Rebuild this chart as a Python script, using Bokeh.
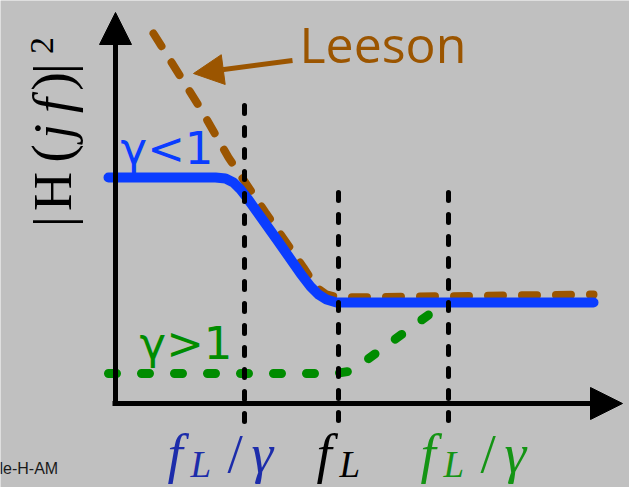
import math

from bokeh.embed import file_html
from bokeh.models import Arrow, ColumnDataSource, Label, NormalHead, Range1d
from bokeh.plotting import figure
from bokeh.resources import INLINE

# ---------------------------------------------------------------------------
# Sketch data (x: log-frequency units, y: log-magnitude units)
# ---------------------------------------------------------------------------
# gamma < 1 response: flat, roll-off, flat floor
blue_x = [-0.14, 2.0, 2.2, 2.36, 2.5, 2.64, 3.24, 3.7, 3.9, 4.06, 4.22, 4.42, 9.56]
blue_y = [5.65, 5.65, 5.625, 5.525, 5.35, 5.125, 4.075, 3.25, 2.925, 2.725, 2.6, 2.525, 2.525]

# Leeson asymptote
leeson_x = [0.76, 1.7, 2.26, 3.0, 3.76, 4.02, 4.22, 4.46, 9.56]
leeson_y = [9.25, 7.375, 6.15, 4.775, 3.4, 2.9, 2.725, 2.65, 2.725]

# gamma > 1 response: low flat level rising to the floor
green_x = [-0.14, 4.4, 4.66, 4.9, 6.6]
green_y = [0.75, 0.75, 0.8, 0.975, 2.525]

# corner-frequency markers
marker_x = [2.58, 4.46, 6.66]
marker_top = [7.45, 5.275, 5.275]
marker_bottom = -0.475

# tick labels: (main, subscript, has "/gamma" tail) pieces and their colours
tick_main = ["f", "f", "f"]
tick_sub = ["L", "L", "L"]
tick_tail = [True, False, True]
tick_colors = ["#1c2caa", "#000000", "#149414"]

BG = "#c0c0c0"
BLUE = "#0a3cff"
BROWN = "#9b5500"
GREEN = "#008c00"

W, H = 629, 487

p = figure(
    width=W,
    height=H,
    x_range=Range1d(-2.3, 10.28),
    y_range=Range1d(-2.1, 10.075),
    output_backend="svg",
    toolbar_location=None,
    x_axis_location=None,
    y_axis_location=None,
    min_border=0,
    background_fill_color=BG,
    border_fill_color=BG,
    outline_line_color=None,
)
p.grid.visible = False

# hand-drawn axes with arrow heads
p.add_layout(Arrow(x_start=0, y_start=-0.05, x_end=0, y_end=9.775,
                   line_color="black", line_width=5,
                   end=NormalHead(size=32, fill_color="black", line_color="black", line_width=1)))
p.add_layout(Arrow(x_start=-0.06, y_start=0, x_end=10.14, y_end=0,
                   line_color="black", line_width=5,
                   end=NormalHead(size=32, fill_color="black", line_color="black", line_width=1)))

# curves
p.line(green_x, green_y, line_color=GREEN, line_width=9, line_dash="8 25", line_cap="round")
p.line(leeson_x, leeson_y, line_color=BROWN, line_width=8, line_dash="15 19", line_cap="round")
p.line(blue_x, blue_y, line_color=BLUE, line_width=10, line_cap="round", line_join="round")

# vertical dashed markers
seg = ColumnDataSource(dict(x=marker_x, top=marker_top, bottom=[marker_bottom] * len(marker_x)))
p.segment(x0="x", y0="top", x1="x", y1="bottom", source=seg,
          line_color="black", line_width=5, line_dash="8 14", line_cap="round")

# arrow pointing at the Leeson asymptote
p.add_layout(Arrow(x_start=3.54, y_start=8.575, x_end=1.56, y_end=8.25,
                   line_color=BROWN, line_width=5,
                   end=NormalHead(size=30, fill_color=BROWN, line_color=BROWN, line_width=1)))

# the rendered glyph baseline sits this fraction of the font size below the anchor
BASE_SHIFT = 0.43
BASE_SHIFT_ROT = 0.33


def label(text, x, y, size, color, font, style="normal", angle=0.0, align="left"):
    """Place text with its baseline at pixel (x, y) measured from the top-left corner."""
    if angle:
        x = x - BASE_SHIFT_ROT * size
    else:
        y = y - BASE_SHIFT * size
    p.add_layout(Label(
        x=x, y=H - y, x_units="screen", y_units="screen", text=text,
        text_font=font, text_font_size=f"{size}px", text_font_style=style,
        text_color=color, text_align=align, text_baseline="alphabetic", angle=angle,
    ))


label("Leeson", 299, 65, 50, BROWN, "Open Sans")
label("γ<1", 120, 167, 45, BLUE, "DejaVu Sans")
label("γ>1", 139, 362, 45, GREEN, "DejaVu Sans")
label("le-H-AM", -1, 475, 16, "#1a1a1a", "Liberation Sans")

# y axis title |H(jf)|^2, rotated
SERIF = "Liberation Serif"
rot = math.pi / 2
label("|", 70, 221, 54, "black", SERIF, angle=rot, align="center")
label("H", 70, 191, 54, "black", SERIF, angle=rot, align="center")
label("(", 70, 153, 56, "black", SERIF, angle=rot, align="center")
label("j", 70, 131, 54, "black", SERIF, style="italic", angle=rot, align="center")
label("f", 70, 105, 54, "black", SERIF, style="italic", angle=rot, align="center")
label(")", 70, 81, 56, "black", SERIF, angle=rot, align="center")
label("|", 70, 68, 54, "black", SERIF, angle=rot, align="center")
label("2", 53, 45, 34, "black", SERIF, angle=rot, align="center")

# x tick labels under the markers
tick_offsets = [-77, -22, -28]
for mx, off, main, sub, tail, col in zip(marker_x, tick_offsets, tick_main, tick_sub, tick_tail, tick_colors):
    sx = 115 + 50 * mx + off
    label(main, sx, 477, 55, col, SERIF, style="italic")
    label(sub, sx + 23, 480, 37, col, SERIF, style="italic")
    if tail:
        label("/", sx + 60, 477, 55, col, SERIF)
        label("γ", sx + 84, 477, 55, col, SERIF, style="italic")

open("out.html", "w").write(file_html(p, INLINE))
